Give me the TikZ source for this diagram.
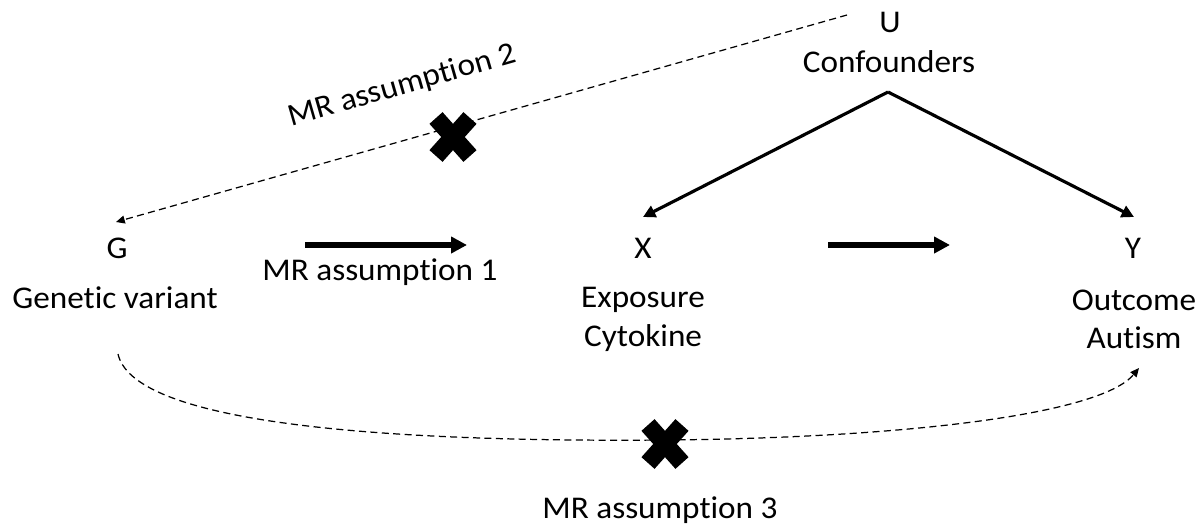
\documentclass[tikz,border=0pt]{standalone}
\usepackage{fontspec}
\setmainfont{Carlito}[Ligatures=NoCommon, FakeStretch=1.05]
\usetikzlibrary{arrows.meta}
\begin{document}
\begin{tikzpicture}[x=0.02cm,y=-0.02cm,
  lbl/.style={font=\fontsize{18}{21}\selectfont, inner sep=0pt, anchor=center},
  solidarr/.style={line width=3pt, -{Triangle[length=9pt,width=9pt]}},
  conarr/.style={line width=1.8pt, -{Triangle[length=7pt,width=7pt]}},
  dasharr/.style={line width=0.7pt, dash pattern=on 4pt off 2.5pt, -{Triangle[length=5pt,width=4.5pt]}},
  crossmark/.style={line width=10pt, line cap=butt}
]
\useasboundingbox (0,0) rectangle (1201,531);
% labels
\node[lbl] (U) at (890,22) {U};
\node[lbl] (conf) at (889,62) {Confounders};
\node[lbl] (G) at (117,248) {G};
\node[lbl] (gv) at (115,298) {Genetic variant};
\node[lbl] (X) at (643,248) {X};
\node[lbl] (exp) at (643,300) {Exposure};
\node[lbl] (cyt) at (643,338) {Cytokine};
\node[lbl] (Y) at (1133,248) {Y};
\node[lbl] (out) at (1134,300) {Outcome};
\node[lbl] (aut) at (1134,338) {Autism};
\node[lbl] (mr1) at (380,272) {MR assumption 1};
\node[lbl, rotate=16] (mr2) at (402,86) {MR assumption 2};
\node[lbl] (mr3) at (660,510) {MR assumption 3};
% coordinates
\coordinate (apex) at (888,92);
\coordinate (xtop) at (643,217);
\coordinate (ytop) at (1134,217);
\coordinate (a1s) at (305,245);
\coordinate (a1e) at (467,245);
\coordinate (a2s) at (828,245);
\coordinate (a2e) at (950,245);
\coordinate (dtop) at (847,15);
\coordinate (gtop) at (116,222);
\coordinate (gbot) at (118,354);
\coordinate (ybot) at (1139,368);
% connectors
\draw[conarr] (apex) -- (xtop);
\draw[conarr] (apex) -- (ytop);
\draw[solidarr] (a1s) -- (a1e);
\draw[solidarr] (a2s) -- (a2e);
\draw[dasharr] (dtop) -- (gtop);
\draw[dasharr] (gbot) .. controls (135,430) and (430,442) .. (665,440)
   .. controls (900,438) and (1100,415) .. (ybot);
% cross marks
\foreach \cx/\cy [count=\i] in {453/137, 665/444} {
  \draw[crossmark] (\cx-17,\cy-19) -- (\cx+17,\cy+19);
  \draw[crossmark] (\cx+17,\cy-19) -- (\cx-17,\cy+19);
}
\end{tikzpicture}
\end{document}
